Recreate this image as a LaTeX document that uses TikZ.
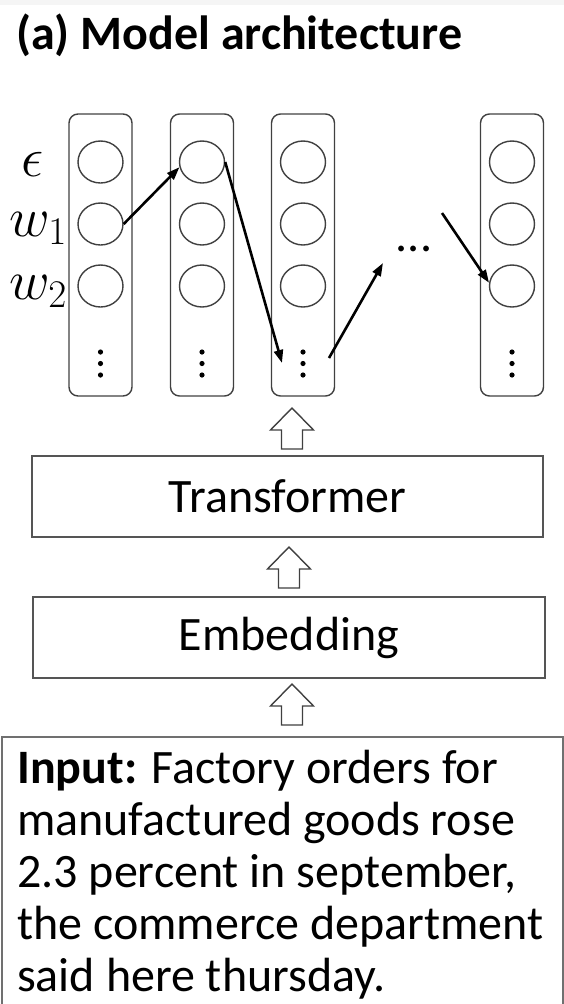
\RequirePackage{fix-cm}
\documentclass[tikz,border=0pt]{standalone}
\usepackage{fontspec}
\setmainfont{Carlito}
\usetikzlibrary{arrows.meta,shapes.geometric}

\definecolor{framegray}{HTML}{555555}
\definecolor{ringgray}{HTML}{404040}
\definecolor{inboxgray}{HTML}{707070}
\definecolor{bandgray}{HTML}{F5F5F5}

\tikzset{
  column/.style={draw=ringgray, line width=1.4pt, rounded corners=9pt,
    minimum width=63pt, minimum height=282pt, inner sep=0pt},
  unit/.style={draw=ringgray, line width=1.4pt, ellipse,
    minimum width=45pt, minimum height=42pt, inner sep=0pt},
  layerbox/.style={draw=framegray, line width=2pt, minimum height=81pt,
    inner sep=0pt, font=\fontsize{48}{52}\selectfont},
  conn/.style={line width=2.6pt, -{Triangle[length=13pt,width=9pt]}},
  symlabel/.style={inner sep=0pt, font=\fontsize{56}{56}\selectfont},
  hollowup/.pic={
    \draw[draw=ringgray, line width=1.4pt, fill=white, line join=miter]
      (-10.5,0) -- (10.5,0) -- (10.5,-19) -- (21.5,-19) -- (0,-41)
      -- (-21.5,-19) -- (-10.5,-19) -- cycle;
  }
}

\begin{document}
\begin{tikzpicture}[x=1pt, y=-1pt]
  \useasboundingbox (0,0) rectangle (564,1004);
  \fill[bandgray] (0,0) rectangle (564,5);

  % heading
  \node[anchor=base west, inner sep=0pt, font=\bfseries\fontsize{48}{52}\selectfont]
    (title) at (16,49) {(a) Model architecture};

  % output columns
  \foreach \c/\x in {1/100.5, 2/202, 3/303, 4/512} {
    \node[column] (col\c) at (\x,255) {};
    \foreach \r/\y in {1/162, 2/224, 3/286} {
      \node[unit] (c\c-\r) at (\x,\y) {};
    }
    \foreach \y in {352, 363.5, 375} {
      \fill[black] (\x,\y) circle (2.6pt);
    }
  }

  % row labels
  \node[symlabel] (leps) at (33,164) {$\epsilon$};
  \node[symlabel, anchor=base west] (lw1) at (9,236) {$w_1$};
  \node[symlabel, anchor=base west] (lw2) at (9,299) {$w_2$};

  % ellipsis between the columns
  \node[inner sep=0pt, anchor=base, font=\fontsize{48}{52}\selectfont] (gap) at (414,251) {...};

  % decoding path
  \coordinate (d3) at (282,363);
  \coordinate (u3s) at (329,358);
  \coordinate (u3e) at (383,263);
  \coordinate (t4s) at (442,213);
  \draw[conn] (c1-2.east) -- (c2-1.193);
  \draw[conn] (c2-1.east) -- (d3);
  \draw[conn] (u3s) -- (u3e);
  \draw[conn] (t4s) -- (c4-3.172);

  % encoder stack
  \node[layerbox, minimum width=511pt] (trans) at (287.5,496.5) {Transformer};
  \node[layerbox, minimum width=512pt] (embed) at (289,637.5) {Embedding};

  % input sentence
  \node[draw=inboxgray, line width=1.4pt, minimum width=561pt, minimum height=303pt,
    inner sep=0pt] (inbox) at (282.5,888.5) {};
  \node[anchor=base west, inner sep=0pt] (intext) at (17,783)
    {\parbox[t]{540pt}{\fontsize{48}{52}\selectfont
      \textbf{Input:} Factory orders for\\
      manufactured goods rose\\
      2.3 percent in september,\\
      the commerce department\\
      said here thursday.}};

  % block arrows between stages
  \pic at (292,449) {hollowup};
  \pic at (289,588) {hollowup};
  \pic at (292,725) {hollowup};
\end{tikzpicture}
\end{document}
